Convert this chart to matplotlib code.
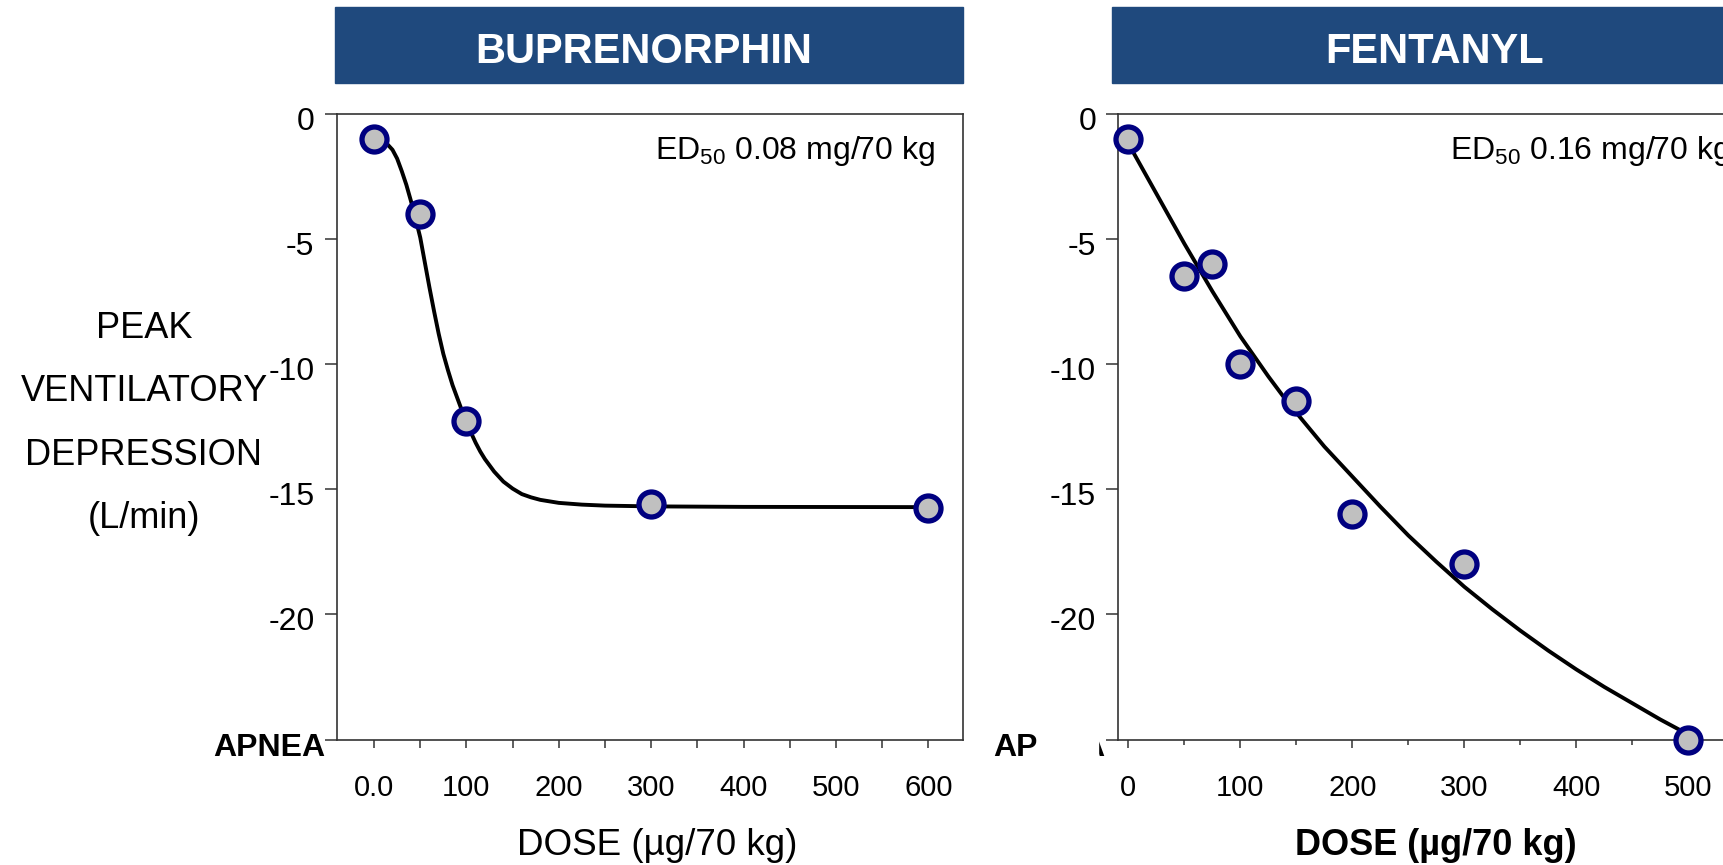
import matplotlib
matplotlib.use("Agg")
import matplotlib.pyplot as plt
import matplotlib.transforms as mtransforms
from matplotlib.patches import Rectangle
from matplotlib.ticker import FixedLocator

plt.rcParams['font.family'] = 'Liberation Sans'
plt.rcParams['mathtext.default'] = 'regular'
plt.rcParams['axes.unicode_minus'] = False

bup_dose = [0, 50, 100, 300, 600]
bup_vent = [-1.0, -4.0, -12.3, -15.6, -15.75]
bup_fit_dose = [0, 5, 10, 15, 20, 25, 30, 35, 40, 45, 50, 55, 60, 65, 70, 75,
                80, 85, 90, 95, 100, 105, 110, 115, 120, 130, 140, 150, 160,
                170, 180, 200, 225, 250, 300, 400, 600]
bup_fit_vent = [-1.0, -1.03, -1.1, -1.25, -1.45, -1.8, -2.3, -2.85, -3.5,
                -4.2, -4.95, -5.95, -6.95, -7.9, -8.8, -9.6, -10.25, -10.85,
                -11.35, -11.85, -12.3, -12.75, -13.15, -13.5, -13.8, -14.3,
                -14.7, -14.98, -15.2, -15.33, -15.43, -15.55, -15.62, -15.66,
                -15.69, -15.71, -15.72]

# Fentanyl
fen_dose = [0, 50, 75, 100, 150, 200, 300, 500]
fen_vent = [-1.0, -6.5, -6.0, -10.0, -11.5, -16.0, -18.0, -25.0]
fen_fit_dose = [0, 12.5, 25, 37.5, 50, 62.5, 75, 87.5, 100, 112.5, 125, 137.5,
                150, 175, 200, 225, 250, 275, 300, 325, 350, 375, 400, 425,
                450, 475, 500]
fen_fit_vent = [-1.2, -2.2, -3.2, -4.2, -5.2, -6.15, -7.1, -8.0, -8.9, -9.7,
                -10.5, -11.25, -11.95, -13.3, -14.5, -15.7, -16.85, -17.9,
                -18.9, -19.8, -20.65, -21.45, -22.2, -22.9, -23.55, -24.2,
                -24.8]

titles = ['BUPRENORPHIN', 'FENTANYL']
ed50_labels = ['ED$_{50}$ 0.08 mg/70 kg', 'ED$_{50}$ 0.16 mg/70 kg']
y_ticks = [0, -5, -10, -15, -20, -25]
y_ticklabels = ['0', '-5', '-10', '-15', '-20', '']
bup_xticks = [0, 100, 200, 300, 400, 500, 600]
bup_xticklabels = ['0.0', '100', '200', '300', '400', '500', '600']
bup_xminor = [50, 150, 250, 350, 450, 550]
fen_xticks = [0, 100, 200, 300, 400, 500]
fen_xticklabels = ['0', '100', '200', '300', '400', '500']
fen_xminor = [50, 150, 250, 350, 450]
ylabel_lines = ['PEAK', 'VENTILATORY', 'DEPRESSION', '(L/min)']
xlabel = 'DOSE (\u00b5g/70 kg)'

W, H = 1724, 865
fig = plt.figure(figsize=(W / 100, H / 100), dpi=100)

def fx(px):
    return px / W

def fy(py):
    return 1 - py / H

box_color = '#1F497D'
spine_color = '#333333'


def panel(rect, dose, vent, fit_d, fit_v, xlim, xt, xtl, xminor, ed50, ed50_x,
          minor_len, apnea_dx):
    ax = fig.add_axes(rect)
    ax.set_xlim(*xlim)
    ax.set_ylim(-25, 0)
    for s in ax.spines.values():
        s.set_color(spine_color)
        s.set_linewidth(1.2)
    ax.plot(fit_d, fit_v, color='black', lw=2.8, zorder=2, clip_on=False,
            solid_joinstyle='round')
    ax.plot(dose, vent, 'o', ms=18, mfc='#C0C0C0', mec='#000080', mew=3.8,
            zorder=3, clip_on=False)
    ax.xaxis.set_major_locator(FixedLocator(xt))
    ax.set_xticklabels(xtl)
    ax.xaxis.set_minor_locator(FixedLocator(xminor))
    ax.set_yticks(y_ticks)
    ax.set_yticklabels(y_ticklabels)
    ax.tick_params(axis='x', which='major', direction='out', length=5.8,
                   width=1.1, color=spine_color, labelsize=21, pad=19)
    ax.tick_params(axis='x', which='minor', direction='out', length=minor_len,
                   width=1.1, color=spine_color)
    ax.tick_params(axis='y', direction='out', length=9, width=1.1,
                   color=spine_color, labelsize=23, pad=7)
    off = mtransforms.ScaledTranslation(0, -0.045, fig.dpi_scale_trans)
    for lab in ax.get_yticklabels():
        lab.set_transform(lab.get_transform() + off)
    ax.annotate('APNEA', xy=(0, -25), xycoords=('axes fraction', 'data'),
                xytext=(apnea_dx, -17), textcoords='offset pixels',
                ha='right', va='baseline', fontsize=23, fontweight='bold')
    ax.text(ed50_x, -1.8, ed50, fontsize=23, ha='left', va='baseline')
    return ax


ax1 = panel([fx(336.7), fy(739.5), fx(626.6), 626 / H],
            bup_dose, bup_vent, bup_fit_dose, bup_fit_vent,
            (-40.4, 637.8), bup_xticks, bup_xticklabels, bup_xminor,
            ed50_labels[0], 304, 5.8, -11)
ax2 = panel([fx(1118.3), fy(739.5), fx(626.6), 626 / H],
            fen_dose, fen_vent, fen_fit_dose, fen_fit_vent,
            (-9, 550.6), fen_xticks, fen_xticklabels, fen_xminor,
            ed50_labels[1], 287, 3.8, -12.5)

# title boxes
for x0, cx, title in [(335, 644, titles[0]), (1112, 1434.6, titles[1])]:
    fig.patches.append(Rectangle((fx(x0), fy(82.7)), fx(627.5), 76 / H,
                                 transform=fig.transFigure, color=box_color,
                                 zorder=1))
    fig.text(fx(cx), fy(63.3), title, ha='center', va='baseline', fontsize=30,
             fontweight='bold', color='white', zorder=2)

# hides part of the second APNEA label, as in the original slide
fig.patches.append(Rectangle((fx(1037), fy(768)), fx(61), 43 / H,
                             transform=fig.transFigure, color='white',
                             zorder=10))

for line, base in zip(ylabel_lines, [338, 401, 465, 528]):
    fig.text(fx(144), fy(base), line, ha='center', va='baseline', fontsize=26)

fig.text(fx(657.5), fy(855), xlabel, ha='center', va='baseline', fontsize=26.5)
fig.text(fx(1436), fy(855), xlabel, ha='center', va='baseline', fontsize=26,
         fontweight='bold')

fig.savefig('out.png', dpi=100)
